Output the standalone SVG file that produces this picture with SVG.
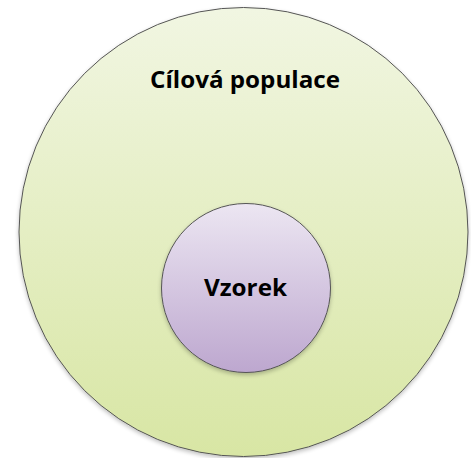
<svg xmlns="http://www.w3.org/2000/svg" width="471" height="458" viewBox="0 0 471 458">
<defs>
<linearGradient id="gOuter" x1="0" y1="0" x2="0" y2="1">
<stop offset="0" stop-color="#f1f6e2"/>
<stop offset="1" stop-color="#d8e6a4"/>
</linearGradient>
<linearGradient id="gInner" x1="0" y1="0" x2="0" y2="1">
<stop offset="0" stop-color="#ece6f2"/>
<stop offset="1" stop-color="#bda7cf"/>
</linearGradient>
<filter id="sh" x="-10%" y="-10%" width="120%" height="120%">
<feGaussianBlur in="SourceAlpha" stdDeviation="2"/>
<feOffset dx="0" dy="2" result="b"/>
<feComponentTransfer><feFuncA type="linear" slope="0.25"/></feComponentTransfer>
<feMerge><feMergeNode/><feMergeNode in="SourceGraphic"/></feMerge>
</filter>
</defs>
<style>
.c{stroke:#555;stroke-width:1}
.t{font-family:"Open Sans",Lato,"DejaVu Sans",sans-serif;font-weight:bold;font-size:23px;fill:#000;text-anchor:middle}
</style>
<rect width="471" height="458" fill="#fff"/>
<g id="population">
<circle class="c" cx="243.5" cy="232" r="224.5" fill="url(#gOuter)" filter="url(#sh)"/>
<text class="t" x="245" y="88" textLength="190" lengthAdjust="spacingAndGlyphs">Cílová populace</text>
</g>
<g id="sample">
<circle class="c" cx="246" cy="288" r="84.5" fill="url(#gInner)" filter="url(#sh)"/>
<text class="t" x="245.5" y="296" textLength="83" lengthAdjust="spacingAndGlyphs">Vzorek</text>
</g>
<g id="connectors"/>
</svg>
